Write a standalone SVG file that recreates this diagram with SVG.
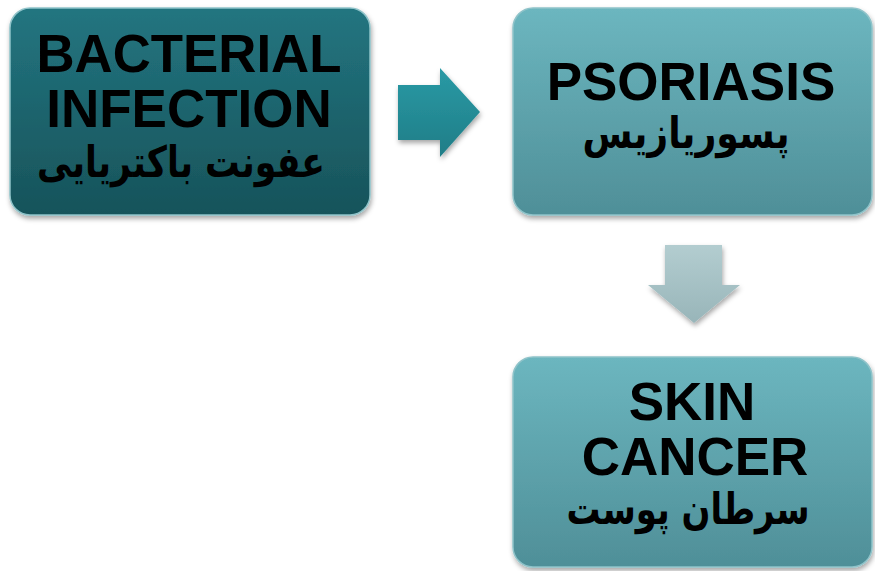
<svg xmlns="http://www.w3.org/2000/svg" width="875" height="571" viewBox="0 0 875 571">
<defs>
<linearGradient id="gDark" x1="0" y1="0" x2="0" y2="1">
<stop offset="0" stop-color="#237580"/>
<stop offset="1" stop-color="#17535a"/>
</linearGradient>
<linearGradient id="gLight" x1="0" y1="0" x2="0" y2="1">
<stop offset="0" stop-color="#6cb6bf"/>
<stop offset="1" stop-color="#4f8f98"/>
</linearGradient>
<linearGradient id="gArrowR" x1="0" y1="0" x2="0" y2="1">
<stop offset="0" stop-color="#2a9aa5"/>
<stop offset="1" stop-color="#1f7d87"/>
</linearGradient>
<linearGradient id="gArrowD" x1="0" y1="0" x2="0" y2="1">
<stop offset="0" stop-color="#b3cdd0"/>
<stop offset="1" stop-color="#98b5b9"/>
</linearGradient>
<filter id="sh" x="-10%" y="-10%" width="120%" height="125%">
<feDropShadow dx="1" dy="3" stdDeviation="2.5" flood-color="#000" flood-opacity="0.35"/>
</filter>
</defs>
<style>
.box{stroke:#8fc3c9;stroke-width:1.5;filter:url(#sh)}
.en{font-family:"Liberation Sans",Arial,sans-serif;font-weight:bold;font-size:53px;fill:#000;text-anchor:middle}
.fa{font-family:"DejaVu Sans",sans-serif;font-weight:bold;font-size:43px;fill:#000;text-anchor:middle}
</style>
<rect width="875" height="571" fill="#fff"/>
<g id="connectors">
<path d="M398,85 H440 V68 L480,112 L440,157 V140 H398 Z" fill="url(#gArrowR)" filter="url(#sh)"/>
<path d="M665,245 H722 V285 H740 L694,323 L648,285 H665 Z" fill="url(#gArrowD)" filter="url(#sh)"/>
</g>
<g id="node-bacterial">
<rect class="box" x="10" y="8" width="360" height="207" rx="20" fill="url(#gDark)"/>
<text class="en" x="189" y="72" textLength="305" lengthAdjust="spacingAndGlyphs">BACTERIAL</text>
<text class="en" x="189" y="127">INFECTION</text>
<text class="fa" x="181" y="177" direction="rtl" textLength="288" lengthAdjust="spacingAndGlyphs">عفونت باکتریایی</text>
</g>
<g id="node-psoriasis">
<rect class="box" x="513" y="8" width="359" height="207" rx="20" fill="url(#gLight)"/>
<text class="en" x="691" y="100">PSORIASIS</text>
<text class="fa" x="686" y="148" direction="rtl" textLength="207" lengthAdjust="spacingAndGlyphs">پسوریازیس</text>
</g>
<g id="node-skin">
<rect class="box" x="513" y="357" width="359" height="210" rx="20" fill="url(#gLight)"/>
<text class="en" x="692" y="420">SKIN</text>
<text class="en" x="695" y="475">CANCER</text>
<text class="fa" x="688" y="524" direction="rtl" textLength="243" lengthAdjust="spacingAndGlyphs">سرطان پوست</text>
</g>
</svg>
